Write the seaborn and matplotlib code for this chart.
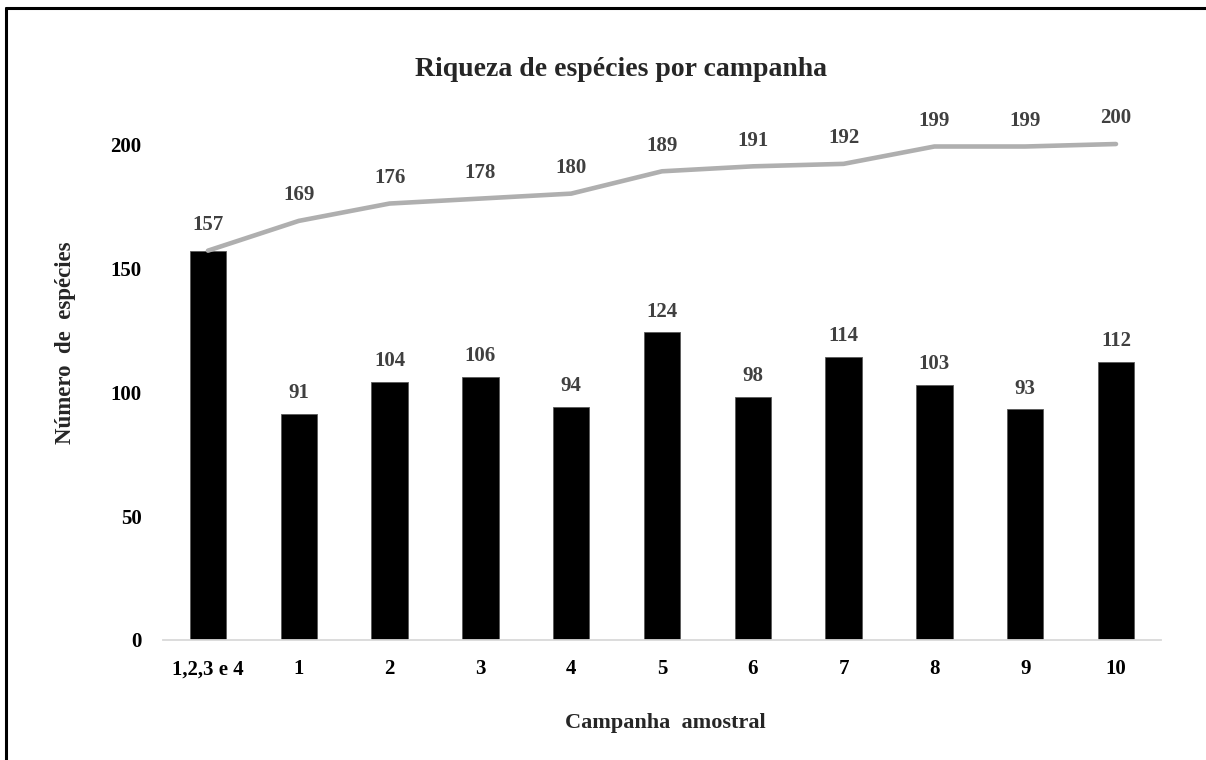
import numpy as np
import pandas as pd
import matplotlib
matplotlib.use("Agg")
import matplotlib.pyplot as plt
from matplotlib.lines import Line2D
import seaborn as sns

# data
campanhas = ["1,2,3 e 4", "1", "2", "3", "4", "5", "6", "7", "8", "9", "10"]
riqueza = [157, 91, 104, 106, 94, 124, 98, 114, 103, 93, 112]
acumulada = [157, 169, 176, 178, 180, 189, 191, 192, 199, 199, 200]
y_ticks = [0, 50, 100, 150, 200]

sns.set_style("white")
plt.rcParams["font.family"] = ["Liberation Serif", "DejaVu Serif"]
plt.rcParams["font.weight"] = "bold"

df = pd.DataFrame({"campanha": campanhas, "riqueza": riqueza,
                   "acumulada": acumulada, "pos": np.arange(len(campanhas))})

fig = plt.figure(figsize=(12.06, 7.6), dpi=100)
ax = fig.add_axes([0.1348, 0.1579, 0.8282, 0.6526])

sns.barplot(data=df, x="campanha", y="riqueza", order=campanhas, color="black",
            width=0.4, saturation=1, edgecolor="#595959", linewidth=0.6, ax=ax)
sns.lineplot(data=df, x="pos", y="acumulada", color="#AFAFAF", linewidth=3.3,
             solid_capstyle="round", ax=ax, clip_on=False)

lab_color = "#404040"
for i, v in enumerate(riqueza):
    if v == acumulada[i]:
        continue  # the reference shows this value only once
    ax.annotate(str(v), (i, v), xytext=(0, 15), textcoords="offset points",
                ha="center", va="center", fontsize=15, fontweight="bold", color=lab_color)
for i, v in enumerate(acumulada):
    ax.annotate(str(v), (i, v), xytext=(0, 18.5), textcoords="offset points",
                ha="center", va="center", fontsize=15, fontweight="bold", color=lab_color,
                annotation_clip=False)

ax.set_xlim(-0.5, len(campanhas) - 0.5)
ax.set_ylim(0, 200)
ax.set_yticks(y_ticks)
ax.set_yticklabels([str(t) for t in y_ticks], fontsize=15, fontweight="bold")
ax.set_xticks(range(len(campanhas)))
ax.set_xticklabels(campanhas, fontsize=15, fontweight="bold")
ax.tick_params(axis="both", length=0, colors="black")
ax.tick_params(axis="x", pad=14)
ax.tick_params(axis="y", pad=15)

for side in ["top", "right", "left"]:
    ax.spines[side].set_visible(False)
ax.spines["bottom"].set_color("#D9D9D9")
ax.spines["bottom"].set_linewidth(1.3)
ax.grid(False)

ax.set_xlabel("")
ax.set_ylabel("")
fig.text(665 / 1206, 1 - 723 / 760, "Campanha  amostral", ha="center", va="center",
         fontsize=16, fontweight="bold")
fig.text(66 / 1206, 1 - 343 / 760, "Número  de  espécies", ha="center", va="center",
         rotation=90, fontsize=16.5, fontweight="bold")
fig.text(621 / 1206, 1 - 70 / 760, "Riqueza de espécies por campanha", ha="center",
         va="center", fontsize=20, fontweight="bold")

# outer frame of the chart box (cropped on the right and bottom)
fig.add_artist(Line2D([6 / 1206, 1.0], [1 - 8 / 760, 1 - 8 / 760],
                      transform=fig.transFigure, color="black", linewidth=2.2))
fig.add_artist(Line2D([6 / 1206, 6 / 1206], [0.0, 1 - 8 / 760],
                      transform=fig.transFigure, color="black", linewidth=2.2))

fig.savefig("out.png", dpi=100)
